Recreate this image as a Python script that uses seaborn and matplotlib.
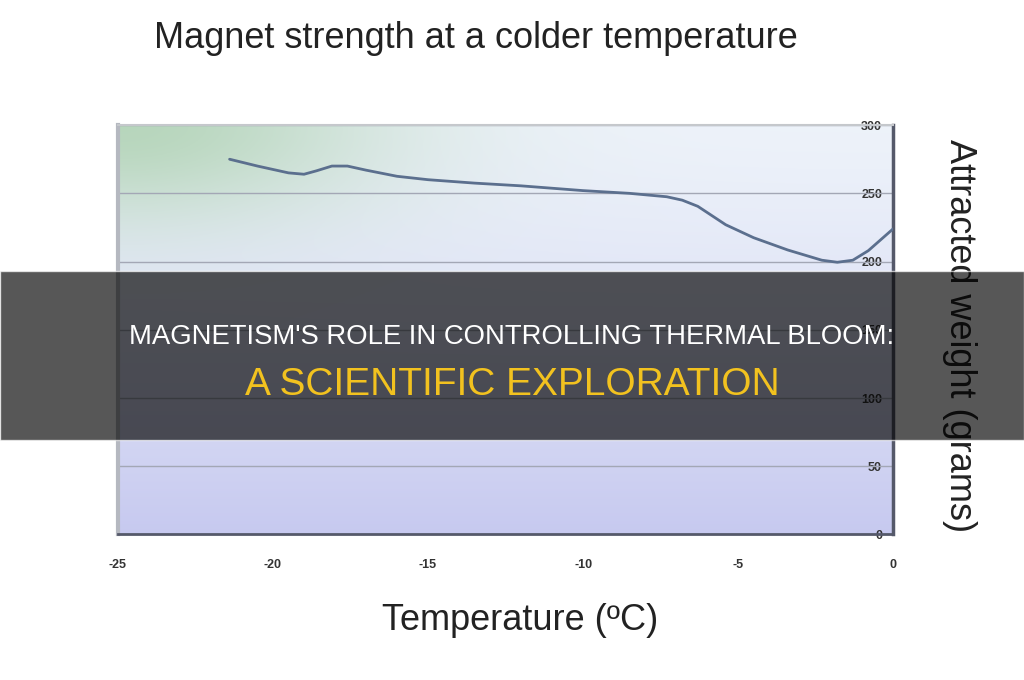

# Magnet strength vs temperature, with a banner overlaid across the middle

import numpy as np
import pandas as pd
import matplotlib.pyplot as plt
from matplotlib.patches import Rectangle
import seaborn as sns

# Values
temperature = [-21.4, -20.5, -19.5, -19.0, -18.6, -18.1, -17.6, -17.0, -16.0, -15.0,
               -13.5, -12.0, -10.0, -8.5, -7.3, -6.8, -6.3, -5.4, -4.5, -3.4,
               -2.3, -1.8, -1.3, -0.8, 0.0]
weight = [275, 270, 265, 264, 266.5, 270, 270, 267, 262.5, 260,
          257.5, 255.5, 252, 250, 247.5, 245, 240.5, 227, 217.5, 208.5,
          201, 199.5, 201, 208, 224]
x_ticks = [-25, -20, -15, -10, -5, 0]
y_ticks = [0, 50, 100, 150, 200, 250, 300]

title = "Magnet strength at a colder temperature"
x_label = "Temperature (ºC)"
y_label = "Attracted weight (grams)"
banner_top = "MAGNETISM'S ROLE IN CONTROLLING THERMAL BLOOM:"
banner_bottom = "A SCIENTIFIC EXPLORATION"

df = pd.DataFrame({"temperature": temperature, "weight": weight})

sns.set_style("white")
plt.rcParams['font.family'] = ['Liberation Sans', 'DejaVu Sans']

fig = plt.figure(figsize=(10.24, 6.8), dpi=100)
ax = fig.add_axes([0.1152, 0.214, 0.757, 0.602])

# gradient background: green tint top-left, lavender towards the bottom
h, w = 200, 300
yy, xx = np.mgrid[0:1:h*1j, 0:1:w*1j]
top = np.array([0.93, 0.95, 0.98])
bottom = np.array([0.78, 0.79, 0.94])
bg = top[None, None, :] * (1 - yy[..., None]**1.3) + bottom[None, None, :] * yy[..., None]**1.3
green = np.array([0.72, 0.84, 0.74])
g = np.exp(-((xx / 0.35)**2 + (yy / 0.25)**2))[..., None]
bg = bg * (1 - g) + green[None, None, :] * g
ax.imshow(bg, extent=[-25, 0, 0, 300], aspect='auto', zorder=0)

# horizontal gridlines
for t in y_ticks[1:]:
    ax.axhline(t, color='#a3a7b5', lw=1, zorder=1)

sns.lineplot(data=df, x="temperature", y="weight", ax=ax, color='#5b6f8e', lw=2, zorder=3)

ax.set_xlim(-25, 0)
ax.set_ylim(0, 300)
ax.set_xticks(x_ticks)
ax.set_yticks(y_ticks)
ax.set_xticklabels([str(t) for t in x_ticks], fontsize=9, fontweight='bold', color='#333333')
ax.yaxis.tick_right()
ax.set_yticklabels([str(t) for t in y_ticks], fontsize=9, fontweight='bold', color='#333333')
for lbl in ax.get_yticklabels():
    lbl.set_horizontalalignment('right')
ax.tick_params(axis='y', length=0, pad=-8)
ax.tick_params(axis='x', length=0, pad=18)
ax.set_xlabel("")
ax.set_ylabel("")

ax.spines['right'].set_color('#55596a')
ax.spines['right'].set_linewidth(2.5)
ax.spines['bottom'].set_color('#55596a')
ax.spines['bottom'].set_linewidth(2)
ax.spines['left'].set_color('#b5b8c0')
ax.spines['left'].set_linewidth(3)
ax.spines['top'].set_color('#c5c8cc')
ax.spines['top'].set_linewidth(1.5)

# titles and axis labels
fig.text(0.465, 0.944, title, fontsize=26, ha='center', va='center', color='#222222')
fig.text(0.508, 0.088, x_label, fontsize=26, ha='center', va='center', color='#222222')
fig.text(0.9375, 0.507, y_label, fontsize=26, rotation=270, ha='center', va='center', color='#222222')

# dark banner with the headline
fig.patches.append(Rectangle((0, 0.353), 1, 0.248, transform=fig.transFigure,
                             facecolor='black', alpha=0.66, zorder=5))
fig.text(0.5, 0.504, banner_top, fontsize=19.8, ha='center', va='center', color='white', zorder=6)
fig.text(0.5, 0.434, banner_bottom, fontsize=28, ha='center', va='center', color='#f2c21f', zorder=6)

fig.savefig("out.png", dpi=100)
